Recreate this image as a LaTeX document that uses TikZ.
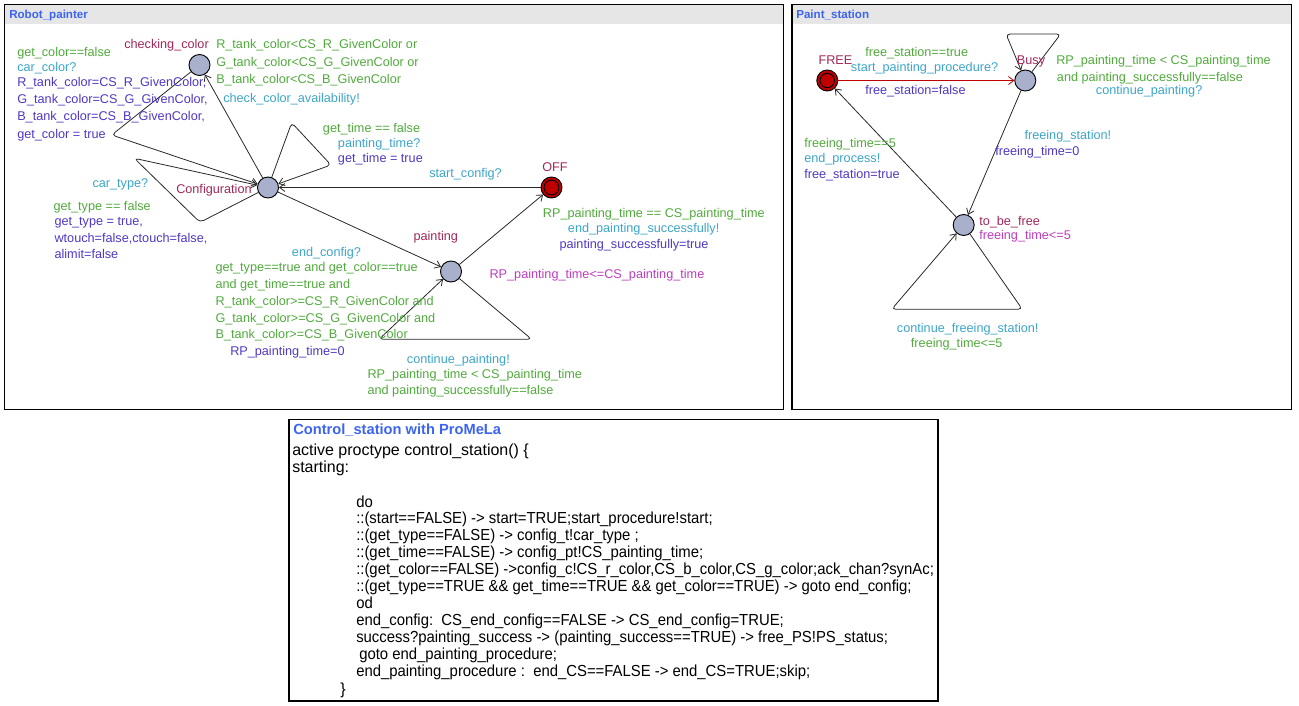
\documentclass[tikz,border=0pt]{standalone}
\usepackage{fontspec}
\setmainfont{Liberation Sans}
\newfontfamily\narrowcode[FakeStretch=0.93]{Liberation Sans}
\usetikzlibrary{arrows.meta}
\definecolor{locname}{RGB}{160,40,90}
\definecolor{guardc}{RGB}{80,170,60}
\definecolor{syncc}{RGB}{60,165,200}
\definecolor{updc}{RGB}{80,55,195}
\definecolor{invc}{RGB}{190,60,190}
\definecolor{titlec}{RGB}{60,100,240}
\definecolor{hdr}{RGB}{230,230,230}
\definecolor{nodefill}{RGB}{168,176,204}
\definecolor{initred}{RGB}{192,0,0}
\definecolor{edgec}{RGB}{40,40,40}
\begin{document}
\begin{tikzpicture}[x=0.75pt,y=-0.75pt,
  lbl/.style={anchor=base west, inner sep=0pt, yshift=-0.75pt, font=\fontsize{9.5}{11}\selectfont},
  gd/.style={lbl, text=guardc},
  sy/.style={lbl, text=syncc},
  up/.style={lbl, text=updc},
  iv/.style={lbl, text=invc},
  ln/.style={lbl, text=locname},
  loc/.style={circle, draw=black, line width=0.7pt, fill=nodefill, minimum size=15.75pt, inner sep=0pt},
  initloc/.style={loc, fill=initred},
  edge/.style={draw=edgec, line width=0.6pt, rounded corners=3pt, -{Straight Barb[length=4pt,width=6pt]}},
  redge/.style={edge, draw=initred},
  panel/.style={draw=black, line width=0.9pt},
  ttl/.style={anchor=base west, inner sep=0pt, text=titlec, font=\fontsize{8.7}{10}\selectfont\bfseries},
  code/.style={anchor=base west, inner sep=0pt, font=\fontsize{12}{13}\selectfont},
  ncode/.style={code, font=\fontsize{12}{13}\narrowcode}
]
\useasboundingbox (0,0) rectangle (1299,706);
% ---------- panels ----------
\fill[hdr] (5,5) rectangle (783,24);
\draw[panel] (4.5,4.5) rectangle (783.5,409.5);
\node[ttl] (t1) at (9,19) {Robot\_painter};
\fill[hdr] (792.5,5) rectangle (1291.5,24);
\draw[panel] (792,4.5) rectangle (1291.5,409.5);
\node[ttl] (t2) at (796,19) {Paint\_station};
\draw[panel] (289,419.5) rectangle (938,701);

% ---------- Robot_painter ----------
\node[loc] (cc) at (199.5,65) {};
\node[loc] (cfg) at (268,187.5) {};
\node[initloc] (off) at (551.5,187.5) {};
\draw[line width=0.7pt] (off.center) circle (5.6pt);
\node[loc] (pnt) at (451,271.5) {};

\coordinate (c1) at (111.7,135);
\coordinate (l1a) at (200,222.3);
\coordinate (l1b) at (134.3,158.3);
\coordinate (l2a) at (291.7,122.7);
\coordinate (l2b) at (331,165);
\coordinate (l3a) at (531.7,339.3);
\coordinate (l3b) at (379,339.3);

\draw[edge] (cfg) -- (cc);
\draw[edge] (cc) -- (c1) -- (cfg);
\draw[edge] (cfg) -- (l1a) -- (l1b) -- (cfg);
\draw[edge] (cfg) -- (l2a) -- (l2b) -- (cfg);
\draw[edge] (off) -- (cfg);
\draw[edge] (cfg) -- (pnt);
\draw[edge] (pnt) -- (off);
\draw[edge] (pnt) -- (l3a) -- (l3b) -- (pnt);

\node[ln] (ncc) at (124,48) {checking\_color};
\node[gd] (a1) at (216,48) {R\_tank\_color<CS\_R\_GivenColor or};
\node[gd] (a2) at (216,66) {G\_tank\_color<CS\_G\_GivenColor or};
\node[gd] (a3) at (216,83) {B\_tank\_color<CS\_B\_GivenColor};
\node[sy] (a4) at (223,102) {check\_color\_availability!};

\node[gd] (b1) at (17,56) {get\_color==false};
\node[sy] (b2) at (17,71) {car\_color?};
\node[up] (b3) at (17,86) {R\_tank\_color=CS\_R\_GivenColor,};
\node[up] (b4) at (17,103) {G\_tank\_color=CS\_G\_GivenColor,};
\node[up] (b5) at (17,120) {B\_tank\_color=CS\_B\_GivenColor,};
\node[up] (b6) at (17,138) {get\_color = true};

\node[gd] (d1) at (322.7,132) {get\_time == false};
\node[sy] (d2) at (337.7,147) {painting\_time?};
\node[up] (d3) at (337.7,162) {get\_time = true};

\node[sy] (e1) at (429,177) {start\_config?};
\node[ln] (noff) at (542,171) {OFF};

\node[sy] (f1) at (92.3,186) {car\_type?};
\node[ln] (ncfg) at (176,193) {Configuration};
\node[gd] (f2) at (53.3,209) {get\_type == false};
\node[up] (f3) at (54.3,224) {get\_type = true,};
\node[up] (f4) at (54.3,241) {wtouch=false,ctouch=false,};
\node[up] (f5) at (54.3,257) {alimit=false};

\node[sy] (h1) at (291.7,255) {end\_config?};
\node[gd] (h2) at (215.3,270) {get\_type==true and get\_color==true};
\node[gd] (h3) at (215.3,287) {and get\_time==true and};
\node[gd] (h4) at (215.3,304) {R\_tank\_color>=CS\_R\_GivenColor and};
\node[gd] (h5) at (215.3,321) {G\_tank\_color>=CS\_G\_GivenColor and};
\node[gd] (h6) at (215.3,337) {B\_tank\_color>=CS\_B\_GivenColor};
\node[up] (h7) at (230,354) {RP\_painting\_time=0};

\node[ln] (npnt) at (413.3,239) {painting};
\node[gd] (k1) at (542.7,217) {RP\_painting\_time == CS\_painting\_time};
\node[sy] (k2) at (567.7,232) {end\_painting\_successfully!};
\node[up] (k3) at (559.3,247) {painting\_successfully=true};
\node[iv] (k4) at (489.3,277) {RP\_painting\_time<=CS\_painting\_time};

\node[sy] (m1) at (406.7,362) {continue\_painting!};
\node[gd] (m2) at (367.3,377) {RP\_painting\_time < CS\_painting\_time};
\node[gd] (m3) at (367.3,393) {and painting\_successfully==false};

% ---------- Paint_station ----------
\node[initloc] (free) at (827.3,80.5) {};
\draw[line width=0.7pt] (free.center) circle (5.4pt);
\node[loc] (busy) at (1025.3,80.5) {};
\node[loc] (tbf) at (963.7,225) {};

\coordinate (p1a) at (1060.7,34);
\coordinate (p1b) at (1006,34);
\coordinate (p2a) at (1022.3,309.3);
\coordinate (p2b) at (891.7,309.3);

\draw[redge] (free) -- (busy);
\draw[edge] (busy) -- (p1a) -- (p1b) -- (busy);
\draw[edge] (busy) -- (tbf);
\draw[edge] (tbf) -- (free);
\draw[edge] (tbf) -- (p2a) -- (p2b) -- (tbf);

\node[ln] (nfree) at (818.3,64) {FREE};
\node[ln] (nbusy) at (1016.7,64) {Busy};
\node[gd] (q1) at (865,56) {free\_station==true};
\node[sy] (q2) at (850.7,71) {start\_painting\_procedure?};
\node[up] (q3) at (865,94) {free\_station=false};

\node[gd] (r1) at (1056,64) {RP\_painting\_time < CS\_painting\_time};
\node[gd] (r2) at (1056.7,81) {and painting\_successfully==false};
\node[sy] (r3) at (1095.7,94) {continue\_painting?};

\node[sy] (s1) at (1024.3,139) {freeing\_station!};
\node[up] (s2) at (995,155) {freeing\_time=0};

\node[gd] (v1) at (804,147) {freeing\_time==5};
\node[sy] (v2) at (804,162) {end\_process!};
\node[up] (v3) at (804,178) {free\_station=true};

\node[ln] (ntbf) at (979,224) {to\_be\_free};
\node[iv] (w1) at (979,238) {freeing\_time<=5};
\node[sy] (w2) at (896.7,331) {continue\_freeing\_station!};
\node[gd] (w3) at (910.7,346) {freeing\_time<=5};

% ---------- Control_station ----------
\node[ttl, font=\fontsize{11}{12}\selectfont\bfseries] (t3) at (293,434) {Control\_station with ProMeLa};
\node[code] (x1) at (292,455) {active proctype control\_station() \{};
\node[code] (x2) at (292,472) {starting:};
\node[ncode] (x3) at (356,507) {do};
\node[ncode] (x4) at (356,523) {::(start==FALSE) -> start=TRUE;start\_procedure!start;};
\node[ncode] (x5) at (356,540) {::(get\_type==FALSE) -> config\_t!car\_type ;};
\node[ncode] (x6) at (356,557) {::(get\_time==FALSE) -> config\_pt!CS\_painting\_time;};
\node[ncode] (x7) at (356,574) {::(get\_color==FALSE) ->config\_c!CS\_r\_color,CS\_b\_color,CS\_g\_color;ack\_chan?synAc;};
\node[ncode] (x8) at (356,591) {::(get\_type==TRUE \&\& get\_time==TRUE \&\& get\_color==TRUE) -> goto end\_config;};
\node[ncode] (x9) at (356,608) {od};
\node[ncode] (x10) at (356,625) {end\_config:\ \ CS\_end\_config==FALSE -> CS\_end\_config=TRUE;};
\node[ncode] (x11) at (356,642) {success?painting\_success -> (painting\_success==TRUE) -> free\_PS!PS\_status;};
\node[ncode] (x12) at (359,659) {goto end\_painting\_procedure;};
\node[ncode] (x13) at (356,676) {end\_painting\_procedure :\ \ end\_CS==FALSE -> end\_CS=TRUE;skip;};
\node[code] (x14) at (340,694) {\}};
\end{tikzpicture}
\end{document}
